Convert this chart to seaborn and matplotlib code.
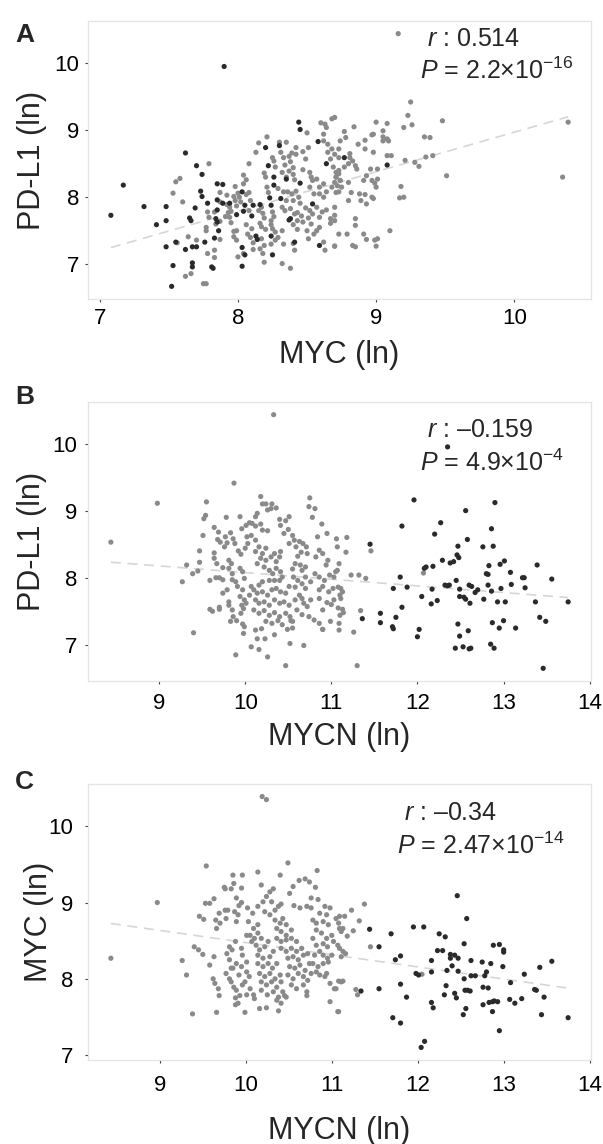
import pandas as pd
import matplotlib
matplotlib.use('Agg')
import matplotlib.pyplot as plt
import seaborn as sns

# ---- values (ln expression) ----
# panel A: MYC (x) vs PD-L1 (y)
a_nonamp = [(7.58,8.28),(7.55,8.23),(7.53,8.06),(7.60,7.93),(7.79,8.50),(7.64,7.41),(7.70,7.36),(7.56,7.32),(7.62,6.82),(7.66,6.86),(7.75,6.71),(7.77,6.71),(7.78,7.16),(7.83,7.21),(7.83,7.10),(7.77,7.50),(7.77,7.55),(7.79,7.70),(7.78,7.78),(7.87,8.07),(7.87,7.93),(7.83,7.78),(7.87,7.64),(7.87,7.37),(7.84,7.60),
            (7.92,8.03),(7.92,7.89),(7.94,7.85),(7.95,7.79),(7.95,7.62),(7.97,8.01),(7.98,7.95),(7.99,7.87),(8.00,8.06),(8.01,8.00),(8.02,7.93),(7.98,8.16),(8.04,8.33),(8.04,8.20),(8.06,8.26),(7.93,7.77),(7.91,7.71),(7.94,7.70),(7.97,7.49),(7.97,7.41),(7.99,7.50),(7.99,7.36),(8.00,7.11),(8.04,7.16),(8.06,8.04),(8.08,8.07),(8.09,7.95),(8.08,7.80),(8.06,7.59),(8.10,7.53),(8.07,7.45),(8.09,7.40),(8.11,7.32),(8.11,7.22),(8.08,8.50),(8.13,8.67),(8.15,8.81),(8.21,8.90),(8.15,7.80),(8.17,7.85),(8.18,7.76),(8.19,7.69),(8.16,7.61),(8.17,7.56),(8.20,7.52),(8.17,7.38),(8.19,7.28),(8.16,7.23),(8.18,7.16),(8.19,7.03),(8.19,8.36),(8.20,8.30),(8.21,8.15),(8.22,8.07),(8.25,8.59),(8.26,8.54),(8.27,8.45),(8.25,7.78),(8.26,7.71),(8.24,7.65),(8.24,7.59),(8.25,7.53),(8.27,7.48),(8.27,7.36),(8.24,7.30),
            (8.30,8.82),(8.35,8.82),(8.31,8.67),(8.33,8.59),(8.34,8.48),(8.32,8.37),(8.35,8.30),(8.37,8.39),(8.40,8.34),(8.41,8.26),(8.29,8.13),(8.33,8.08),(8.36,8.08),(8.39,8.05),(8.42,8.09),(8.44,8.00),(8.40,7.95),(8.35,7.95),(8.32,7.85),(8.34,7.80),(8.38,7.83),(8.41,7.75),(8.43,7.77),(8.46,7.72),(8.43,7.65),(8.40,7.59),(8.43,7.52),(8.47,7.63),(8.45,7.91),(8.49,7.84),(8.51,7.69),(8.32,7.50),(8.29,7.40),(8.33,7.30),(8.40,7.31),(8.41,7.21),(8.38,6.94),(8.32,7.01),(8.42,8.74),(8.42,8.64),(8.47,8.68),(8.49,8.57),(8.51,8.74),(8.50,8.96),(8.47,8.41),(8.52,8.37),(8.53,8.30),(8.54,8.25),(8.52,8.15),(8.57,8.27),(8.59,8.15),(8.62,8.20),(8.55,8.05),(8.59,8.05),(8.62,8.00),(8.64,8.08),(8.68,8.15),(8.72,8.17),(8.74,8.25),(8.52,7.80),(8.54,7.75),(8.57,7.85),(8.61,7.78),(8.59,7.70),(8.64,7.81),(8.67,7.68),(8.67,7.61),(8.70,7.65),(8.53,7.60),(8.55,7.45),(8.57,7.50),(8.59,7.55),(8.62,8.94),(8.64,9.04),(8.62,8.84),(8.65,8.79),(8.68,8.72),(8.70,8.64),(8.65,8.67),(8.67,8.57),(8.69,8.45),(8.71,8.37),(8.73,8.35),(8.71,8.30),(8.62,7.33),(8.63,7.21),(8.70,7.27),(8.51,7.38),(8.50,7.50),(8.73,8.59),(8.73,8.72),(8.74,8.84),(8.60,9.11),(8.63,9.09),(8.38,8.53),(8.40,8.44),(8.39,8.66),(8.37,8.61),(8.68,9.17),
            (9.16,10.44),(9.25,9.42),(9.23,9.22),(9.26,9.08),(9.20,9.04),(9.48,9.14),(9.35,8.90),(9.39,8.89),(10.39,9.12),(10.35,8.30),(9.51,8.32),(9.36,8.60),(9.41,8.62),(9.28,8.52),(9.31,8.46),(9.21,8.55),(9.18,8.16),(9.17,7.99),(9.20,8.00),(9.10,7.50),(9.08,8.62),(9.11,8.62),(9.08,8.87),(9.09,8.84),(9.05,8.90),(9.05,8.99),(9.00,9.12),(8.97,8.93),(8.98,8.94),(9.08,9.10),(8.92,8.72),(8.98,8.67),(8.92,8.85),(8.87,8.79),(8.84,9.05),(8.77,8.98),(8.78,8.89),(8.70,9.19),(8.81,8.65),(8.81,8.59),(9.05,8.84),(8.83,8.54),(8.86,8.42),(8.96,8.42),(9.01,8.42),(8.93,8.32),(8.91,8.25),(8.97,8.25),(9.01,8.27),(9.00,8.15),(8.99,8.21),(8.88,8.05),(8.92,8.04),(8.97,8.00),(8.98,7.98),(8.82,8.07),(8.80,7.95),(8.80,8.22),(8.73,8.40),(8.77,8.45),(8.80,8.50),(8.85,8.47),(8.71,8.30),(8.74,8.25),(8.70,8.22),(8.71,8.07),(8.75,8.15),(8.73,8.08),(8.91,7.45),(8.93,7.37),(8.85,7.68),(8.85,7.58),(8.79,7.45),(8.70,7.73),(8.70,7.27),(8.83,7.28),(8.85,7.26),(8.99,7.36),(9.01,7.38),(9.00,7.27),(8.93,7.90),(8.89,7.95),(8.70,7.85),(8.73,7.45)]
a_amp = [(7.90,9.95),(7.17,8.18),(7.08,7.73),(7.32,7.86),(7.41,7.59),(7.48,7.86),(7.48,7.65),(7.48,7.26),(7.53,6.98),(7.52,6.67),(7.55,7.33),(7.62,8.66),(7.62,7.22),(7.65,7.69),(7.66,7.65),(7.69,7.84),(7.70,8.47),(7.74,8.34),(7.73,8.09),(7.74,8.01),(7.67,7.26),(7.70,7.26),(7.67,7.02),(7.67,6.96),(7.76,7.33),(7.78,7.91),(7.81,6.96),(7.82,6.94),(7.83,7.39),(7.85,8.20),(7.89,8.19),(7.85,7.96),(7.85,7.81),(7.84,7.68),(7.85,7.63),(7.86,7.50),(7.89,7.91),(7.94,7.91),(7.99,7.74),(8.03,8.08),(8.04,7.79),(8.05,7.88),(8.03,7.25),(8.05,7.14),(8.03,6.97),(8.10,7.72),(8.11,7.88),(8.13,7.42),(8.14,7.37),(8.16,7.89),(8.20,8.74),(8.22,8.47),(8.23,7.99),(8.24,7.88),(8.24,7.42),(8.25,7.14),(8.30,8.77),(8.26,8.30),(8.26,8.18),(8.31,7.98),(8.35,8.27),(8.37,7.66),(8.38,7.68),(8.44,9.12),(8.45,9.01),(8.45,8.21),(8.41,7.33),(8.54,7.90),(8.58,8.83),(8.59,7.28),(8.64,8.50),(9.08,8.48),(8.77,8.59)]

# panel B: MYCN (x) vs PD-L1 (y)
b_nonamp = [(10.33,10.43),(8.44,8.53),(8.98,9.11),(9.87,9.41),(9.27,7.94),(9.32,8.19),(9.39,8.06),(9.45,8.10),(9.40,7.18),(9.47,8.23),(9.47,8.40),(9.51,8.63),(9.52,8.88),(9.54,8.93),(9.55,9.13),(9.59,7.96),(9.64,8.75),(9.64,8.37),(9.64,8.29),(9.67,8.21),(9.69,8.68),(9.68,8.57),(9.71,8.53),(9.59,7.53),(9.62,7.50),(9.70,7.56),(9.70,7.53),(9.66,8.00),(9.70,8.00),(9.74,7.97),(9.74,7.77),(9.79,7.82),(9.74,8.15),(9.78,8.90),(9.77,8.61),(9.79,8.52),(9.76,8.46),(9.83,8.67),(9.86,8.58),(9.88,8.51),(9.81,8.26),(9.84,8.21),(9.81,8.14),(9.85,8.06),(9.89,7.94),(9.91,7.87),(9.85,7.97),(9.81,7.64),(9.81,7.59),(9.85,7.52),(9.86,7.42),(9.83,7.35),(9.90,7.36),(9.89,6.85),(9.94,8.91),(9.96,8.73),(10.01,8.78),(10.05,8.82),(9.92,8.40),(9.95,8.35),(10.00,8.44),(10.03,8.51),(10.07,8.63),(10.02,8.61),(9.94,8.14),(9.97,8.09),(9.99,7.99),(9.97,7.82),(9.94,7.72),(9.99,7.67),(9.96,7.59),(9.98,7.54),(10.01,7.62),(10.05,7.74),(10.07,7.87),(9.95,7.47),(9.97,7.31),(9.99,7.27),(9.98,7.17),(10.07,6.97),(10.16,6.93),(10.26,6.82),(10.14,7.09),(10.23,7.09),(10.34,7.15),(10.12,8.91),(10.14,8.96),(10.18,9.21),(10.20,9.10),(10.24,9.10),(10.26,9.01),(10.31,9.10),(10.30,9.03),(10.36,9.04),(10.08,8.81),(10.12,8.77),(10.18,8.80),(10.20,8.71),(10.26,8.70),(10.12,8.56),(10.16,8.46),(10.12,8.39),(10.20,8.36),(10.24,8.44),(10.18,8.29),(10.14,8.21),(10.24,8.26),(10.30,8.31),(10.34,8.36),(10.36,8.24),(10.40,8.31),(10.41,8.39),(10.22,8.16),(10.28,8.11),(10.32,8.06),(10.36,8.14),(10.41,8.09),(10.43,8.01),(10.40,7.96),(10.34,7.96),(10.28,7.96),(10.20,7.94),(10.16,7.89),(10.10,7.82),(10.14,7.77),(10.20,7.79),(10.26,7.74),(10.31,7.82),(10.36,7.84),(10.41,7.79),(10.47,7.77),(10.51,7.87),(10.12,7.67),(10.16,7.62),(10.22,7.64),(10.28,7.59),(10.34,7.67),(10.40,7.62),(10.45,7.64),(10.51,7.59),(10.10,7.52),(10.16,7.47),(10.22,7.51),(10.28,7.44),(10.34,7.48),(10.40,7.42),(10.47,7.47),(10.52,7.42),(10.24,7.35),(10.31,7.32),(10.38,7.36),(10.43,7.30),(10.49,7.23),(10.55,7.25),(10.55,7.35),(10.53,7.36),(10.19,7.24),(10.12,7.22),(10.47,6.69),(10.52,7.02),(10.68,6.99),(10.40,8.87),(10.41,8.78),(10.47,8.85),(10.51,8.91),(10.45,8.66),(10.50,8.72),(10.55,8.63),(10.57,8.56),(10.51,8.51),(10.59,8.46),(10.63,8.54),(10.67,8.51),(10.71,8.46),(10.65,8.38),(10.72,8.36),(10.61,8.32),(10.58,8.21),(10.64,8.19),(10.70,8.16),(10.55,8.13),(10.66,8.11),(10.56,8.01),(10.61,7.96),(10.70,8.01),(10.76,7.94),(10.66,7.91),(10.58,7.86),(10.70,7.84),(10.63,7.74),(10.66,7.69),(10.58,7.67),(10.68,7.62),(10.72,7.57),(10.76,7.67),(10.60,7.52),(10.66,7.45),(10.74,7.42),(10.80,7.37),(10.86,7.32),(10.90,7.23),(10.75,9.19),(10.74,9.06),(10.81,9.03),(10.78,8.90),(10.89,8.80),(10.84,8.61),(10.95,8.66),(10.86,8.41),(10.82,8.31),(10.90,8.36),(10.96,8.26),(10.94,8.19),(10.81,8.06),(10.86,8.01),(10.92,7.96),(10.98,8.04),(11.03,8.01),(11.07,8.11),(10.86,7.82),(10.90,7.87),(10.97,7.79),(11.02,7.84),(10.86,7.69),(10.95,7.63),(11.03,7.67),(10.90,7.52),(10.99,7.35),(10.90,7.23),(11.00,7.60),(11.08,7.55),(11.06,8.58),(11.07,8.46),(11.09,7.22),(11.09,7.32),(11.10,7.44),(11.08,7.86),(11.10,7.74),
            (11.18,8.60),(11.17,8.38),(11.09,8.21),(11.05,8.09),(11.23,8.04),(11.32,8.04),(11.40,7.99),(11.11,7.84),(11.13,7.79),(11.11,7.69),(11.13,7.53),(11.14,7.48),(11.34,7.51),(11.26,7.19),(11.30,6.69),(11.46,8.40),(12.07,8.07)]
b_amp = [(11.45,8.50),(12.35,9.95),(11.96,9.16),(11.82,8.77),(12.27,8.82),(12.56,9.00),(12.90,9.12),(12.86,8.73),(12.20,8.65),(12.47,8.47),(12.46,8.34),(12.48,8.30),(12.58,8.57),(12.76,8.46),(12.88,8.47),(12.38,8.22),(12.42,8.24),(12.29,8.26),(12.10,8.16),(12.08,8.14),(12.18,8.17),(12.83,8.18),(12.80,8.06),(12.82,8.05),(12.96,8.20),(13.01,8.25),(13.08,8.08),(13.24,8.00),(13.39,8.19),(13.56,7.98),(11.80,8.01),(11.72,7.84),(11.88,7.86),(12.05,7.72),(12.16,7.61),(12.23,7.66),(12.17,7.83),(12.32,7.89),(12.35,7.88),(12.37,7.89),(12.45,7.96),(12.49,7.83),(12.49,7.72),(12.54,7.71),(12.56,7.68),(12.61,7.62),(12.60,7.89),(12.63,7.87),(12.67,7.78),(12.70,7.82),(12.77,7.68),(12.82,7.89),(12.86,7.80),(12.93,7.64),(12.97,7.84),(13.02,7.64),(13.09,7.90),(13.22,8.00),(13.25,7.85),(13.37,7.64),(13.75,7.64),(11.82,7.56),(11.57,7.47),(11.36,7.39),(11.57,7.33),(11.71,7.27),(11.72,7.24),(12.02,7.23),(12.00,7.12),(11.75,7.41),(12.47,7.31),(12.49,7.13),(12.59,7.21),(12.44,6.95),(12.53,6.97),(12.60,6.94),(12.62,6.95),(12.87,7.33),(12.95,7.25),(13.00,7.36),(13.14,7.25),(12.85,7.01),(12.89,6.95),(13.42,7.41),(13.49,7.35),(13.46,6.65)]

# panel C: MYCN (x) vs MYC (y)
c_nonamp = [(10.19,10.39),(10.24,10.35),(8.43,8.27),(8.97,9.00),(9.54,9.48),(9.38,7.54),(9.26,8.24),(9.31,8.05),(9.40,8.42),(9.45,8.38),(9.50,8.32),(9.46,8.82),(9.51,8.78),(9.53,8.99),(9.58,8.99),(9.63,9.05),(9.66,7.56),(9.58,8.18),(9.63,8.29),(9.62,8.00),(9.64,7.94),(9.68,7.87),(9.69,7.78),(9.65,8.77),(9.70,8.73),(9.66,8.66),(9.69,8.86),(9.76,8.90),(9.79,8.90),(9.77,8.79),(9.75,9.20),(9.76,9.18),(9.83,9.18),(9.86,9.25),(9.95,9.19),(9.85,9.36),(9.96,9.36),(9.89,9.06),(9.92,8.96),(9.95,9.00),(9.87,8.88),(9.91,8.84),(9.89,8.75),(9.81,8.42),(9.78,8.33),(9.81,8.25),(9.83,8.14),(9.77,8.07),(9.81,8.00),(9.83,7.96),(9.86,7.89),(9.89,7.85),(9.88,7.75),(9.93,7.78),(9.91,7.68),(9.88,7.66),(9.99,7.56),(9.84,8.38),(9.88,8.49),(9.95,8.40),(9.96,8.31),(10.01,8.22),(9.95,8.16),(9.92,8.05),(10.01,8.09),(10.04,8.03),(9.99,7.96),(9.96,7.92),(10.05,7.87),(10.09,7.79),(10.10,7.74),(10.01,7.79),(10.14,9.40),(10.18,9.23),(10.02,8.93),(10.08,8.86),(10.03,8.75),(10.09,8.66),(10.14,8.71),(10.05,8.57),(10.10,8.53),(10.14,8.60),(10.18,8.53),(10.12,8.44),(10.16,8.38),(10.22,8.42),(10.26,8.49),(10.14,8.31),(10.20,8.27),(10.28,8.29),(10.32,8.36),(10.14,8.20),(10.20,8.16),(10.26,8.20),(10.31,8.14),(10.36,8.20),(10.16,8.07),(10.22,8.03),(10.28,8.07),(10.34,8.00),(10.40,8.05),(10.18,7.96),(10.24,7.92),(10.30,7.96),(10.36,7.89),(10.41,7.96),(10.18,7.85),(10.25,7.79),(10.32,7.83),(10.38,7.76),(10.43,7.83),(10.47,7.76),(10.16,7.61),(10.24,7.62),(10.38,7.58),(10.45,7.78),(10.28,9.14),(10.32,9.18),(10.24,9.08),(10.30,9.01),(10.22,8.88),(10.28,8.84),(10.34,8.90),(10.38,8.95),(10.41,8.98),(10.34,8.77),(10.40,8.73),(10.43,8.79),(10.47,8.71),(10.36,8.66),(10.41,8.62),(10.47,8.57),(10.53,8.64),(10.36,8.53),(10.41,8.49),(10.47,8.51),(10.53,8.53),(10.59,8.49),(10.41,8.40),(10.47,8.36),(10.53,8.40),(10.59,8.36),(10.65,8.40),(10.49,8.27),(10.55,8.29),(10.61,8.25),(10.67,8.31),(10.72,8.33),(10.51,8.16),(10.57,8.14),(10.63,8.18),(10.69,8.11),(10.74,8.20),(10.49,8.05),(10.55,8.00),(10.61,8.07),(10.67,8.03),(10.72,7.98),(10.53,7.92),(10.59,7.87),(10.67,7.92),(10.71,7.83),(10.71,7.78),(10.49,9.52),(10.40,9.36),(10.51,9.12),(10.55,9.21),(10.62,9.29),(10.69,9.31),(10.74,9.27),(10.81,9.20),(10.83,9.42),(10.14,8.95),(10.20,9.01),(10.76,9.06),(10.84,9.04),(10.92,8.95),(10.98,8.93),(10.76,8.93),(10.86,8.86),(10.94,8.84),(10.78,8.77),(10.82,8.73),(10.90,8.75),(10.96,8.71),(10.82,8.64),(10.88,8.60),(10.94,8.53),(11.00,8.57),(10.78,8.53),(10.82,8.44),(10.90,8.46),(10.95,8.42),(10.80,8.31),(10.86,8.36),(10.90,8.31),(10.95,8.27),(11.00,8.31),(10.78,8.20),(10.84,8.16),(10.90,8.20),(10.96,8.22),(10.76,8.07),(10.82,8.09),(10.86,8.05),(10.92,8.03),(10.94,8.07),(10.98,7.94),(11.08,7.97),(11.11,7.96),(10.98,7.70),(11.05,7.87),(11.08,7.57),(11.05,8.79),(11.08,8.73),(11.09,8.82),(11.09,8.66),(11.11,8.62),(10.63,8.93),(10.71,8.95),(10.56,8.96),(10.36,7.72),(10.41,7.68),(10.01,8.57),(10.07,8.49),(9.89,8.20),(9.85,8.14),
            (11.15,8.82),(11.23,8.90),(11.38,8.98),(11.32,8.76),(11.25,8.63),(11.13,8.66),(11.18,8.56),(11.02,8.49),(11.07,8.44),(11.09,8.40),(11.13,8.36),(11.11,8.29),(11.16,8.33),(11.45,8.42),(11.13,7.97),(11.03,7.87),(11.30,7.79),(11.28,7.86),(11.07,7.57),(12.05,8.06)]
c_amp = [(12.46,9.09),(12.57,8.79),(11.44,8.65),(11.69,8.59),(11.55,8.42),(11.95,8.68),(12.07,8.68),(12.25,8.59),(12.32,8.55),(12.23,8.37),(12.29,8.37),(12.38,8.32),(12.43,8.31),(12.47,8.27),(12.54,8.46),(12.88,8.44),(12.95,8.45),(13.00,8.38),(13.00,8.35),(11.74,8.25),(11.80,8.30),(12.16,8.24),(12.38,8.27),(12.62,8.24),(12.75,8.22),(12.85,8.20),(12.99,8.16),(12.01,8.05),(11.98,8.07),(12.16,8.09),(12.34,8.11),(12.40,8.17),(12.47,8.10),(12.54,8.00),(12.62,8.04),(12.67,8.04),(12.78,8.04),(12.80,8.09),(13.08,7.95),(13.24,8.06),(13.42,8.15),(13.56,8.23),(12.76,7.89),(12.82,7.88),(12.33,7.91),(12.43,7.81),(12.58,7.85),(12.61,7.84),(12.55,7.85),(11.55,7.87),(11.34,7.84),(11.80,7.93),(11.87,7.76),(12.16,7.69),(12.18,7.62),(12.31,7.79),(12.45,7.75),(12.56,7.61),(12.76,7.66),(12.83,7.69),(12.87,7.70),(12.89,7.71),(12.93,7.70),(12.87,7.57),(13.07,7.73),(13.13,7.68),(13.21,7.74),(13.36,7.86),(13.38,7.85),(13.47,7.76),(13.44,7.53),(13.75,7.49),(12.53,7.53),(11.71,7.49),(11.80,7.42),(12.95,7.32),(12.08,7.18),(12.04,7.10)]

x_labels = ['MYC (ln)', 'MYCN (ln)', 'MYCN (ln)']
y_labels = ['PD-L1 (ln)', 'PD-L1 (ln)', 'MYC (ln)']
panel_tags = ['A', 'B', 'C']
x_ticks = [[7, 8, 9, 10], [9, 10, 11, 12, 13, 14], [9, 10, 11, 12, 13, 14]]
y_ticks = [7, 8, 9, 10]
r_text = [r'$r$ : 0.514', r'$r$ : –0.159', r'$r$ : –0.34']
p_text = [r'$P$ = 2.2×10$^{-16}$', r'$P$ = 4.9×10$^{-4}$', r'$P$ = 2.47×10$^{-14}$']

sns.set_style('white')
plt.rcParams['font.family'] = ['Liberation Sans', 'DejaVu Sans']
plt.rcParams['mathtext.fontset'] = 'custom'
plt.rcParams['mathtext.rm'] = 'Liberation Sans'
plt.rcParams['mathtext.it'] = 'Liberation Sans:italic'
plt.rcParams['mathtext.bf'] = 'Liberation Sans:bold'

gray = '#8a8a8a'
dark = '#2a2a2a'

def make_df(non, amp):
    rows = [(x, y, 'non') for x, y in non] + [(x, y, 'amp') for x, y in amp]
    return pd.DataFrame(rows, columns=['x', 'y', 'grp'])

data = [make_df(a_nonamp, a_amp), make_df(b_nonamp, b_amp), make_df(c_nonamp, c_amp)]

fig = plt.figure(figsize=(6.03, 11.44), dpi=100)
W, H = 603, 1144
# axes boxes in pixels: left, top, right, bottom
boxes = [(88, 21, 591, 299), (88, 402, 591, 681), (88, 784, 591, 1060)]
tag_top = [23, 385, 770]
xlab_y = [-0.147, -0.147, -0.203]
ylab_x = [-0.081, -0.082, -0.068]
xpad = [4.3, 5.8, 8.6]
ypad = [3.6, 5.0, 8.0]
txt_pos = [((0.674, 0.935), (0.660, 0.820)),
           ((0.674, 0.900), (0.660, 0.782)),
           ((0.628, 0.895), (0.614, 0.776))]

for i, df in enumerate(data):
    l, t, r, b = boxes[i]
    ax = fig.add_axes([l / W, 1 - b / H, (r - l) / W, (b - t) / H])
    sns.regplot(data=df, x='x', y='y', ax=ax, scatter=False, ci=None, truncate=True,
                line_kws={'color': '#d6d6d6', 'lw': 1.2, 'ls': (0, (6, 4)), 'zorder': 1})
    sns.scatterplot(data=df, x='x', y='y', hue='grp', palette={'non': gray, 'amp': dark},
                    s=14, linewidth=0, legend=False, ax=ax, zorder=2)
    ax.set_xticks(x_ticks[i])
    ax.set_yticks(y_ticks)
    ax.tick_params(axis='x', bottom=True, direction='out', length=2.5, width=0.8,
                   color='#444444', labelsize=16, pad=xpad[i], labelcolor='black')
    ax.tick_params(axis='y', left=True, direction='out', length=2.5, width=0.8,
                   color='#444444', labelsize=16, pad=ypad[i], labelcolor='black')
    for s in ax.spines.values():
        s.set_color('#e4e4e4')
        s.set_linewidth(0.9)
    ax.set_xlabel(x_labels[i], fontsize=22)
    ax.set_ylabel(y_labels[i], fontsize=22)
    ax.xaxis.set_label_coords(0.5, xlab_y[i])
    ax.yaxis.set_label_coords(ylab_x[i], 0.5)
    (rx, ry), (px, py) = txt_pos[i]
    ax.text(rx, ry, r_text[i], transform=ax.transAxes, fontsize=18, ha='left', va='center')
    ax.text(px, py, p_text[i], transform=ax.transAxes, fontsize=18, ha='left', va='center')
    fig.text(15 / W, 1 - tag_top[i] / H, panel_tags[i], fontsize=19, fontweight='bold',
             ha='left', va='top')

fig.savefig('out.png', dpi=100)
